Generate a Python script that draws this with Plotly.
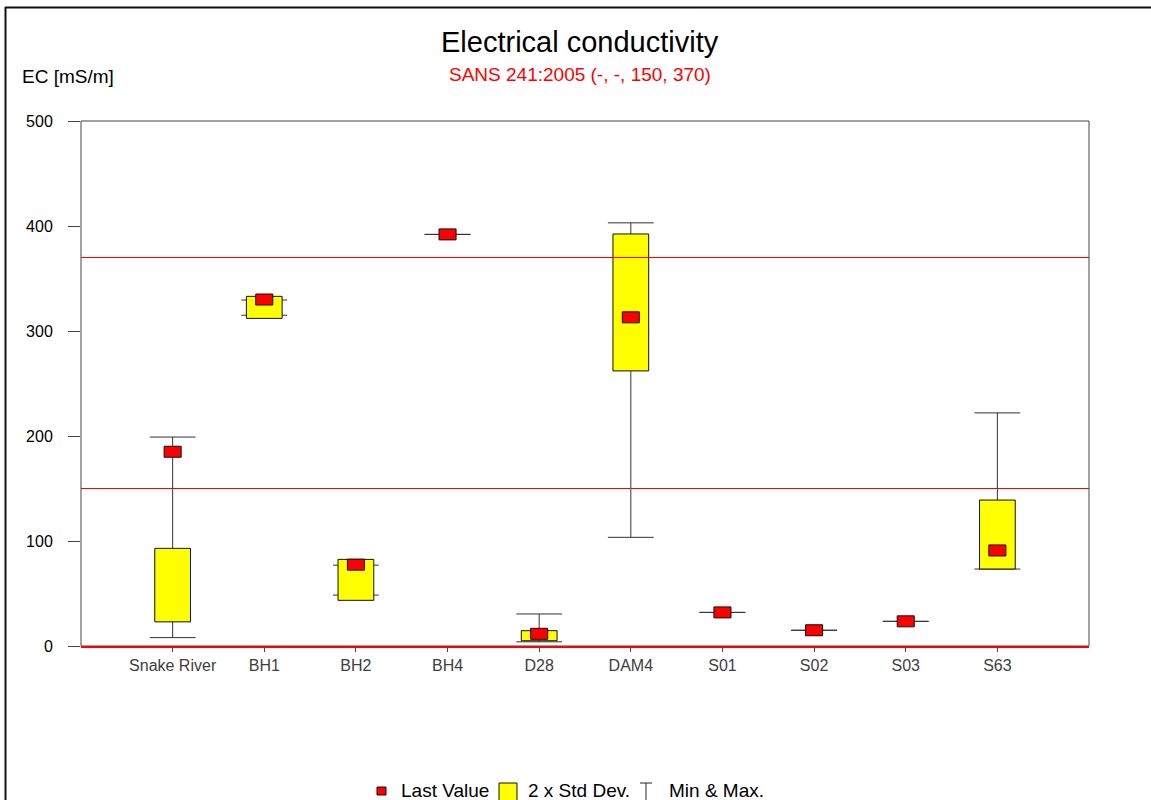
import plotly.graph_objects as go

# ---- data -------------------------------------------------------------
sites = ["Snake River", "BH1", "BH2", "BH4", "D28", "DAM4", "S01", "S02", "S03", "S63"]
last_value = [185, 330, 77.5, 392, 11.6, 313, 32, 15, 23.5, 91]
sd_low = [23, 312, 43.5, 392, 5, 262, 32, 15, 23.5, 73.3]
sd_high = [93, 333, 82.5, 392, 14.6, 392.4, 32, 15, 23.5, 139]
val_min = [8, 315, 48.5, 392, 4, 103.5, 32, 15, 23.5, 73.3]
val_max = [199, 329.5, 77, 392, 30.5, 403, 32, 15, 23.5, 222]
limits = [150, 370]             # SANS 241:2005 limits (-, -, 150, 370)
y_ticks = [0, 100, 200, 300, 400, 500]

# ---- geometry ---------------------------------------------------------
W, H = 1151, 800
L, R, T, B = 81, 62, 121, 154
PW, PH = W - L - R, H - T - B
Y_MAX = 500
X_RANGE = [-1, len(sites)]

BOX_HALF = 0.195
CAP_HALF = 0.25
MARK_HALF_X = 0.093
MARK_HALF_Y = 5.5 * Y_MAX / PH   # 11 px tall rectangle

FONT = "Liberation Sans, Arial, sans-serif"


def px(xp):
    return (xp - L) / PW


def py(yp):
    return (H - B - yp) / PH


xs = list(range(len(sites)))

# whiskers: stem + caps
wx, wy = [], []
for i, lo, hi in zip(xs, val_min, val_max):
    wx += [i, i, None, i - CAP_HALF, i + CAP_HALF, None, i - CAP_HALF, i + CAP_HALF, None]
    wy += [lo, hi, None, lo, lo, None, hi, hi, None]

# 2 x std dev boxes
bx, by = [], []
for i, lo, hi in zip(xs, sd_low, sd_high):
    if hi <= lo:
        continue
    bx += [i - BOX_HALF, i + BOX_HALF, i + BOX_HALF, i - BOX_HALF, i - BOX_HALF, None]
    by += [lo, lo, hi, hi, lo, None]

# last value rectangles
mx, my = [], []
for i, v in zip(xs, last_value):
    mx += [i - MARK_HALF_X, i + MARK_HALF_X, i + MARK_HALF_X, i - MARK_HALF_X, i - MARK_HALF_X, None]
    my += [v - MARK_HALF_Y, v - MARK_HALF_Y, v + MARK_HALF_Y, v + MARK_HALF_Y, v - MARK_HALF_Y, None]

# limit lines across the full plot width
lx, ly = [], []
for lim in limits:
    lx += [X_RANGE[0], X_RANGE[1], None]
    ly += [lim, lim, None]

fig = go.Figure()
fig.add_trace(go.Scatter(x=wx, y=wy, mode="lines", line=dict(color="#333333", width=1),
                         hoverinfo="skip", showlegend=False))
fig.add_trace(go.Scatter(x=bx, y=by, mode="lines", fill="toself", fillcolor="#FFFF00",
                         line=dict(color="#111111", width=1), hoverinfo="skip", showlegend=False))
fig.add_trace(go.Scatter(x=lx, y=ly, mode="lines", line=dict(color="#FF0000", width=1),
                         hoverinfo="skip", showlegend=False))
fig.add_trace(go.Scatter(x=mx, y=my, mode="lines", fill="toself", fillcolor="#FF0000",
                         line=dict(color="#111111", width=1), hoverinfo="skip", showlegend=False))

shapes = []
# plot frame
shapes.append(dict(type="rect", xref="paper", yref="paper", x0=0, x1=1, y0=0, y1=1,
                   line=dict(color="#444444", width=1), layer="above"))
# zero line in red along the bottom edge
shapes.append(dict(type="line", xref="paper", yref="paper", x0=0, x1=1,
                   y0=py(647), y1=py(647), line=dict(color="#FF0000", width=2), layer="above"))
# page border (left and top edges visible)
shapes.append(dict(type="line", xref="paper", yref="paper", x0=px(5.5), x1=px(5.5),
                   y0=py(7), y1=py(H + 10), line=dict(color="#111111", width=2)))
shapes.append(dict(type="line", xref="paper", yref="paper", x0=px(5), x1=px(W + 10),
                   y0=py(7.5), y1=py(7.5), line=dict(color="#111111", width=2)))

# legend
shapes.append(dict(type="rect", xref="paper", yref="paper", x0=px(377), x1=px(386),
                   y0=py(795), y1=py(787), fillcolor="#FF0000",
                   line=dict(color="#111111", width=1)))
shapes.append(dict(type="rect", xref="paper", yref="paper", x0=px(499), x1=px(517),
                   y0=py(802), y1=py(783), fillcolor="#FFFF00",
                   line=dict(color="#111111", width=1)))
shapes.append(dict(type="line", xref="paper", yref="paper", x0=px(640), x1=px(652),
                   y0=py(783), y1=py(783), line=dict(color="#222222", width=1)))
shapes.append(dict(type="line", xref="paper", yref="paper", x0=px(646), x1=px(646),
                   y0=py(783), y1=py(802), line=dict(color="#222222", width=1)))

annotations = [
    dict(text="Electrical conductivity", x=px(580), y=py(42), xref="paper", yref="paper",
         showarrow=False, xanchor="center", yanchor="middle",
         font=dict(family=FONT, size=29, color="#000000")),
    dict(text="SANS 241:2005 (-, -, 150, 370)", x=px(580), y=py(75), xref="paper", yref="paper",
         showarrow=False, xanchor="center", yanchor="middle",
         font=dict(family=FONT, size=19, color="#FF0000")),
    dict(text="EC [mS/m]", x=px(20), y=py(76), xref="paper", yref="paper",
         showarrow=False, xanchor="left", yanchor="middle",
         font=dict(family=FONT, size=19, color="#000000")),
    dict(text="Last Value", x=px(399), y=py(790), xref="paper", yref="paper",
         showarrow=False, xanchor="left", yanchor="middle",
         font=dict(family=FONT, size=19, color="#000000")),
    dict(text="2 x Std Dev.", x=px(526), y=py(790), xref="paper", yref="paper",
         showarrow=False, xanchor="left", yanchor="middle",
         font=dict(family=FONT, size=19, color="#000000")),
    dict(text="Min &amp; Max.", x=px(667), y=py(790), xref="paper", yref="paper",
         showarrow=False, xanchor="left", yanchor="middle",
         font=dict(family=FONT, size=19, color="#000000")),
]

fig.update_layout(
    width=W, height=H,
    margin=dict(l=L, r=R, t=T, b=B, pad=0),
    paper_bgcolor="white", plot_bgcolor="white",
    showlegend=False,
    shapes=shapes,
    annotations=annotations,
    xaxis=dict(range=X_RANGE, tickvals=xs, ticktext=sites, showgrid=False, zeroline=False,
               ticks="outside", ticklen=5, tickcolor="#444444", showline=False,
               tickfont=dict(family=FONT, size=16, color="#404040"), fixedrange=True),
    yaxis=dict(range=[0, Y_MAX], tickvals=y_ticks, showgrid=False, zeroline=False,
               ticks="outside", ticklen=12, tickcolor="#444444", showline=False,
               ticklabelstandoff=12,
               tickfont=dict(family=FONT, size=16, color="#000000"), fixedrange=True),
)

fig.write_html("out.html")
